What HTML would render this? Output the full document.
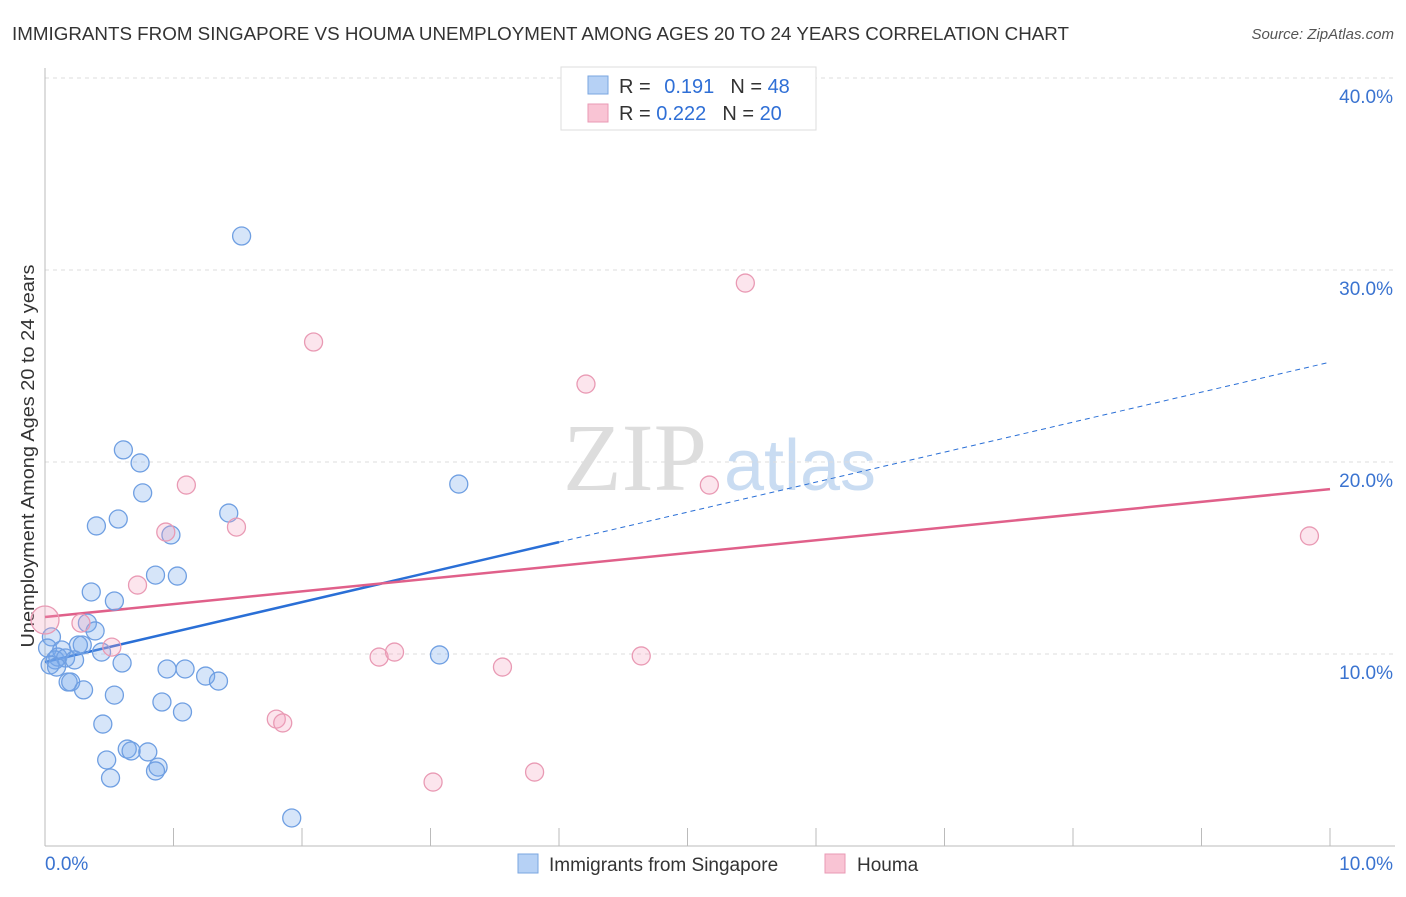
<!DOCTYPE html>
<html><head><meta charset="utf-8"><style>
body{margin:0;background:#fff;font-family:"Liberation Sans",sans-serif}
</style></head><body>
<svg width="1406" height="892" viewBox="0 0 1406 892" xmlns="http://www.w3.org/2000/svg">
<text x="12" y="40" font-size="18" fill="#333" textLength="1057" lengthAdjust="spacingAndGlyphs">IMMIGRANTS FROM SINGAPORE VS HOUMA UNEMPLOYMENT AMONG AGES 20 TO 24 YEARS CORRELATION CHART</text>
<text x="1394" y="39" font-size="15" fill="#555" font-style="italic" text-anchor="end">Source: ZipAtlas.com</text>
<g>
<text x="635" y="490" font-size="96" fill="#ddd" font-family="Liberation Serif,serif" text-anchor="middle">ZIP</text>
<text x="800" y="490" font-size="72" fill="#c9dcf2" text-anchor="middle">atlas</text>
</g>
<g id="grid"></g>
<g id="axes"></g>
<text transform="translate(34,456) rotate(-90)" font-size="18" fill="#333" text-anchor="middle" textLength="383" lengthAdjust="spacingAndGlyphs">Unemployment Among Ages 20 to 24 years</text>
<g id="lines"></g>
<g id="pts"></g>
<g>
<rect x="561" y="67" width="255" height="63" fill="#fff" stroke="#ddd"/>
<rect x="588" y="76" width="20" height="18" fill="#b6d1f5" stroke="#7aa6e0"/>
<rect x="588" y="104" width="20" height="18" fill="#f9c4d4" stroke="#e99ab4"/>
<text x="619" y="93" font-size="20" fill="#333">R = <tspan fill="#2f6fd6" dx="8">0.191</tspan><tspan dx="16" fill="#333">N = </tspan><tspan fill="#2f6fd6">48</tspan></text>
<text x="619" y="120" font-size="20" fill="#333">R = <tspan fill="#2f6fd6">0.222</tspan><tspan dx="16" fill="#333">N = </tspan><tspan fill="#2f6fd6">20</tspan></text>
</g>
<g>
<rect x="518" y="854" width="20" height="19" fill="#b6d1f5" stroke="#7aa6e0"/>
<text x="549" y="871" font-size="19" fill="#333">Immigrants from Singapore</text>
<rect x="825" y="854" width="20" height="19" fill="#f9c4d4" stroke="#e99ab4"/>
<text x="857" y="871" font-size="19" fill="#333">Houma</text>
</g>
</svg>
<script>
const blueX=[1.53,0.61,0.74,0.76,1.43,0.57,0.40,0.98,0.86,1.03,0.36,0.54,0.33,0.39,0.29,0.26,0.44,0.05,0.02,0.13,0.08,0.10,0.16,0.23,0.04,0.09,0.60,0.95,1.09,1.25,1.35,0.18,0.20,0.30,0.54,0.91,1.07,0.45,0.64,0.67,0.80,0.48,0.88,0.86,0.51,1.92,3.22,3.07];
const blueY=[31.77,20.63,19.95,18.39,17.34,17.03,16.67,16.20,14.11,14.06,13.23,12.76,11.61,11.20,10.47,10.47,10.10,10.89,10.31,10.21,9.69,9.84,9.79,9.69,9.43,9.32,9.53,9.22,9.22,8.85,8.59,8.54,8.54,8.13,7.86,7.50,6.98,6.35,5.05,4.95,4.90,4.48,4.11,3.91,3.54,1.46,18.85,9.95];
const pinkX=[0.00,0.28,0.52,0.72,0.94,1.10,1.49,2.09,1.80,1.85,2.60,2.72,3.02,3.56,3.81,4.21,4.64,5.17,5.45,9.84];
const pinkY=[11.77,11.61,10.36,13.59,16.35,18.80,16.61,26.25,6.61,6.41,9.84,10.10,3.33,9.32,3.85,24.06,9.90,18.80,29.32,16.15];
const blueTrend=[9.58,25.2];
const pinkTrend=[11.93,18.59];
const yTicks=[10,20,30,40];
const yTickLabels=["10.0%","20.0%","30.0%","40.0%"];
const xTicks=[1,2,3,4,5,6,7,8,9,10];
const NS="http://www.w3.org/2000/svg";
const sx=v=>45+v*128.5, sy=v=>846-v*19.2;
function mk(t,a,p){const e=document.createElementNS(NS,t);for(const k in a)e.setAttribute(k,a[k]);document.getElementById(p).appendChild(e);return e;}
yTicks.forEach((t,i)=>{
 const g=mk('line',{x1:45,x2:1395,y1:sy(t),y2:sy(t),stroke:'#ddd','stroke-dasharray':'4,4'},'grid');
 
 
 const l=mk('text',{x:1393,y:sy(t)+25,'font-size':19,fill:'#3a73d0','text-anchor':'end'},'grid');
 l.textContent=yTickLabels[i];
 
 
});
mk('line',{x1:45,x2:45,y1:68,y2:846,stroke:'#bbb'},'axes');
mk('line',{x1:45,x2:1395,y1:846,y2:846,stroke:'#bbb'},'axes');
xTicks.forEach(t=>{const e=mk('line',{x1:sx(t),x2:sx(t),y1:828,y2:846,stroke:'#bbb'},'axes');
 
 });
const x0=mk('text',{x:45,y:870,'font-size':19,fill:'#3a73d0'},'axes');x0.textContent='0.0%';


const x1=mk('text',{x:1393,y:870,'font-size':19,fill:'#3a73d0','text-anchor':'end'},'axes');x1.textContent='10.0%';


const bm=v=>blueTrend[0]+(blueTrend[1]-blueTrend[0])*v/10;
let e=mk('line',{x1:sx(0),y1:sy(bm(0)),x2:sx(4),y2:sy(bm(4)),stroke:'#2a6fd6','stroke-width':2.5},'lines');


e=mk('line',{x1:sx(4),y1:sy(bm(4)),x2:sx(10),y2:sy(bm(10)),stroke:'#2a6fd6','stroke-width':1,'stroke-dasharray':'5,4'},'lines');


e=mk('line',{x1:sx(0),y1:sy(pinkTrend[0]),x2:sx(10),y2:sy(pinkTrend[1]),stroke:'#e0608a','stroke-width':2.5},'lines');


blueX.forEach((x,i)=>{const c=mk('circle',{cx:sx(x),cy:sy(blueY[i]),r:9,fill:'rgba(120,170,235,0.3)',stroke:'#6f9fe2','stroke-width':1.3},'pts');
 
 });
pinkX.forEach((x,i)=>{const c=mk('circle',{cx:sx(x),cy:sy(pinkY[i]),r:i==0?14:9,fill:'rgba(245,160,190,0.28)',stroke:'#e99ab4','stroke-width':1.3},'pts');
 
 });
</script>
</body></html>
